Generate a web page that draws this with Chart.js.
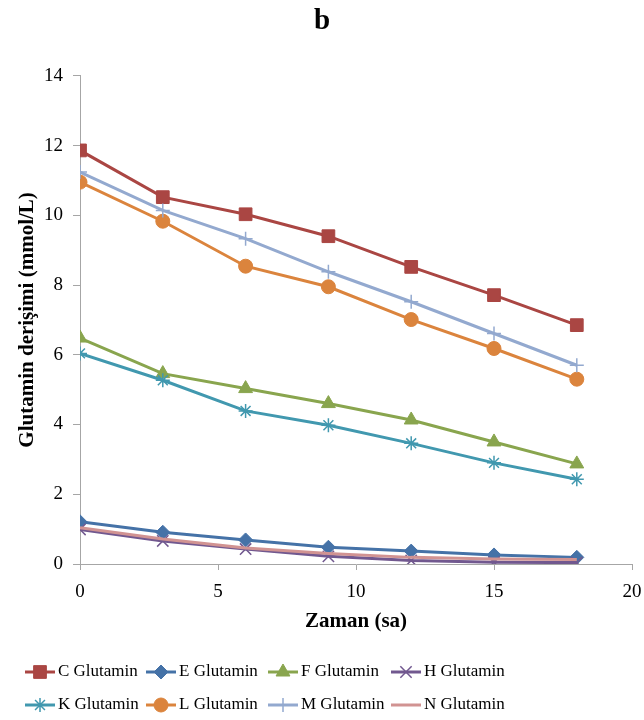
<!DOCTYPE html>
<html>
<head>
<meta charset="utf-8">
<title>Glutamin derişimi</title>
<script src="https://cdn.jsdelivr.net/npm/chart.js@4.4.1/dist/chart.umd.min.js"></script>
<style>
  html, body { margin: 0; padding: 0; background: #fff; }
  #wrap { width: 644px; height: 720px; position: relative; }
</style>
</head>
<body>
<div id="wrap"><canvas id="chart" width="644" height="720"></canvas></div>
<script>
// Sampling times (sa)
const times = [0, 3, 6, 9, 12, 15, 18];

// Glutamine concentration per group (mmol/L)
const seriesNames = ['C Glutamin', 'E Glutamin', 'F Glutamin', 'H Glutamin',
                     'K Glutamin', 'L Glutamin', 'M Glutamin', 'N Glutamin'];
const cGlutamin = [11.86, 10.52, 10.03, 9.40, 8.52, 7.71, 6.85];
const eGlutamin = [1.21, 0.91, 0.69, 0.48, 0.37, 0.26, 0.19];
const fGlutamin = [6.48, 5.46, 5.03, 4.60, 4.13, 3.50, 2.87];
const hGlutamin = [0.99, 0.66, 0.43, 0.22, 0.10, 0.05, 0.04];
const kGlutamin = [6.04, 5.27, 4.39, 3.98, 3.46, 2.90, 2.43];
const lGlutamin = [10.95, 9.83, 8.54, 7.95, 7.01, 6.18, 5.30];
const mGlutamin = [11.24, 10.14, 9.33, 8.38, 7.52, 6.61, 5.70];
const nGlutamin = [1.04, 0.72, 0.46, 0.30, 0.19, 0.14, 0.13];

// Axis ticks
const xTicks = [0, 5, 10, 15, 20];
const yTicks = [0, 2, 4, 6, 8, 10, 12, 14];

const seriesValues = [cGlutamin, eGlutamin, fGlutamin, hGlutamin,
                      kGlutamin, lGlutamin, mGlutamin, nGlutamin];

// Look of each series: colour, marker shape, marker radius, marker outline width
const looks = [
  { color: '#AA4643', style: 'rect',     r: 9, bw: 1 },
  { color: '#4572A7', style: 'rectRot',  r: 7, bw: 1 },
  { color: '#89A54E', style: 'triangle', r: 8, bw: 1 },
  { color: '#71588F', style: 'crossRot', r: 8, bw: 1.5 },
  { color: '#4198AF', style: 'star',     r: 7, bw: 1.5 },
  { color: '#DB843D', style: 'circle',   r: 7, bw: 1 },
  { color: '#93A9CF', style: 'cross',    r: 7, bw: 1.5 },
  { color: '#D19392', style: 'circle',   r: 0, bw: 0 }
];

const SERIF = '"Liberation Serif", "Times New Roman", serif';
const AXIS_GREY = '#A6A6A6';

const datasets = seriesNames.map((name, i) => ({
  label: name,
  data: times.map((t, j) => ({ x: t, y: seriesValues[i][j] })),
  borderColor: looks[i].color,
  backgroundColor: looks[i].color,
  borderWidth: 3,
  pointStyle: looks[i].style,
  pointRadius: looks[i].r,
  pointHoverRadius: looks[i].r,
  pointBackgroundColor: looks[i].color,
  pointBorderColor: looks[i].color,
  pointBorderWidth: looks[i].bw,
  tension: 0,
  fill: false,
  order: seriesNames.length - i
}));

// Legend drawn as line + marker + label, four entries per row
const lineMarkerLegend = {
  id: 'lineMarkerLegend',
  afterDraw(chart) {
    const ctx = chart.ctx;
    const colX = [25, 146, 268, 391];
    const rowY = [672, 705];
    const lineLen = 30;
    chart.data.datasets.forEach((ds, i) => {
      const x = colX[i % 4];
      const y = rowY[Math.floor(i / 4)];
      ctx.save();
      ctx.strokeStyle = ds.borderColor;
      ctx.lineWidth = ds.borderWidth;
      ctx.lineCap = 'butt';
      ctx.beginPath();
      ctx.moveTo(x, y);
      ctx.lineTo(x + lineLen, y);
      ctx.stroke();
      if (ds.pointRadius > 0) {
        ctx.fillStyle = ds.pointBackgroundColor;
        ctx.strokeStyle = ds.pointBorderColor;
        ctx.lineWidth = ds.pointBorderWidth;
        Chart.helpers.drawPoint(ctx, {
          pointStyle: ds.pointStyle,
          radius: ds.pointRadius,
          borderWidth: ds.pointBorderWidth,
          rotation: 0
        }, x + lineLen / 2, y);
      }
      ctx.fillStyle = '#000';
      ctx.font = '17px ' + SERIF;
      ctx.textAlign = 'left';
      ctx.textBaseline = 'middle';
      ctx.fillText(ds.label, x + lineLen + 3, y);
      ctx.restore();
    });
  }
};

new Chart(document.getElementById('chart'), {
  type: 'line',
  data: { datasets },
  plugins: [lineMarkerLegend],
  options: {
    responsive: false,
    animation: false,
    events: [],
    layout: { padding: { left: 0, right: 0, top: 0, bottom: 80 } },
    plugins: {
      legend: { display: false },
      tooltip: { enabled: false },
      title: {
        display: true,
        text: 'b',
        color: '#000',
        font: { family: SERIF, size: 29, weight: 'bold' },
        padding: { top: 4, bottom: 37 }
      }
    },
    scales: {
      x: {
        type: 'linear',
        min: 0,
        max: 20,
        afterBuildTicks: s => { s.ticks = xTicks.map(v => ({ value: v })); },
        afterFit: s => { s.height = 76; s.paddingRight = 12; },
        ticks: {
          color: '#000',
          font: { family: SERIF, size: 19 },
          padding: 11,
          maxRotation: 0
        },
        grid: {
          display: true,
          drawOnChartArea: false,
          drawTicks: true,
          tickLength: 6,
          color: AXIS_GREY,
          tickColor: AXIS_GREY
        },
        border: { display: true, color: AXIS_GREY, width: 1 },
        title: {
          display: true,
          text: 'Zaman (sa)',
          color: '#000',
          font: { family: SERIF, size: 21, weight: 'bold' },
          padding: { top: 0, bottom: 6 }
        }
      },
      y: {
        type: 'linear',
        min: 0,
        max: 14,
        afterBuildTicks: s => { s.ticks = yTicks.map(v => ({ value: v })); },
        afterFit: s => { s.width = 80; },
        ticks: {
          color: '#000',
          font: { family: SERIF, size: 19 },
          padding: 10
        },
        grid: {
          display: true,
          drawOnChartArea: false,
          drawTicks: true,
          tickLength: 7,
          color: AXIS_GREY,
          tickColor: AXIS_GREY
        },
        border: { display: true, color: AXIS_GREY, width: 1 },
        title: {
          display: true,
          text: 'Glutamin derişimi (mmol/L)',
          color: '#000',
          font: { family: SERIF, size: 21, weight: 'bold' },
          padding: { top: 15, bottom: 0 }
        }
      }
    }
  }
});
</script>
</body>
</html>
